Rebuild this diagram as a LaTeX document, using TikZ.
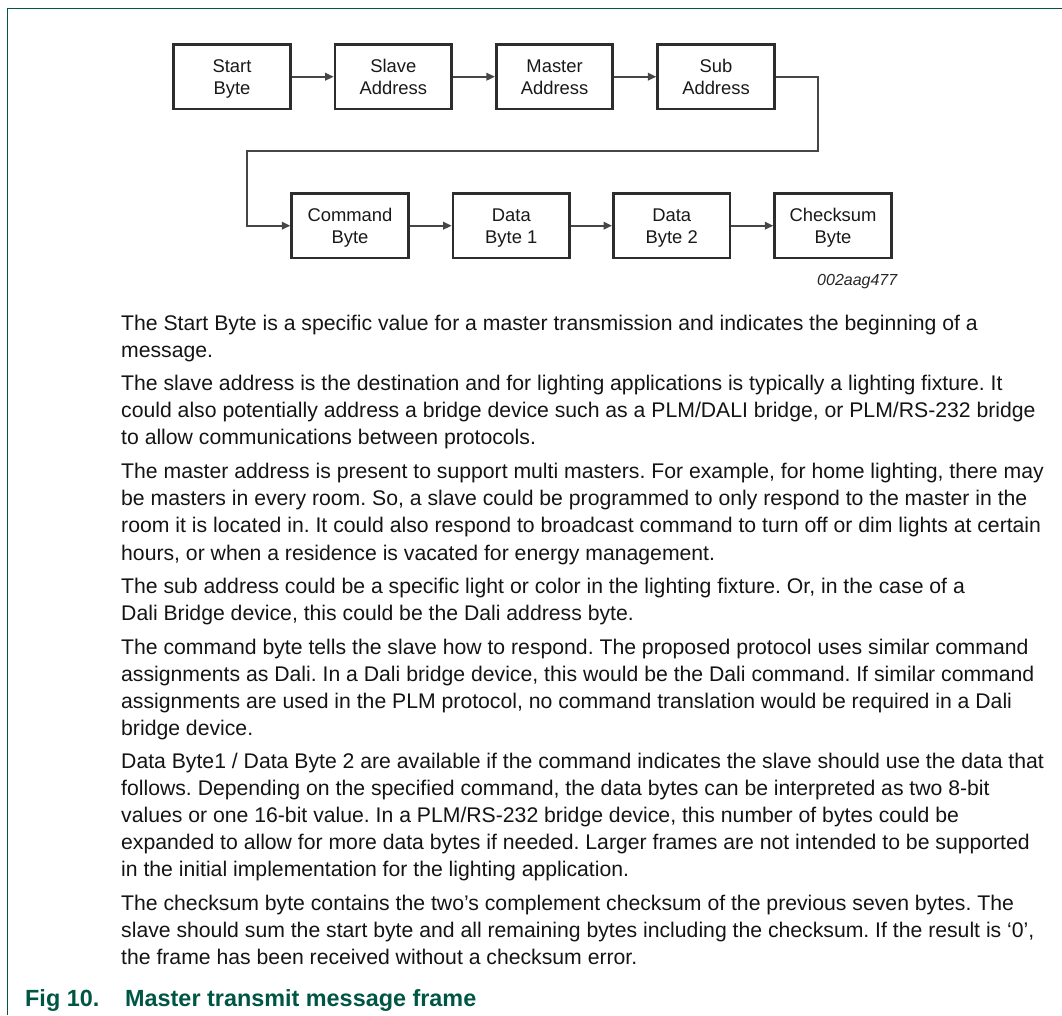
\documentclass[tikz,border=0pt]{standalone}
\usepackage{fontspec}
\setmainfont{Liberation Sans}
\usetikzlibrary{arrows.meta}
\definecolor{nxpgreen}{RGB}{0,86,68}
\definecolor{boxgray}{RGB}{45,45,45}
\definecolor{linegray}{RGB}{70,70,70}
\newcommand{\plines}[1]{\begin{tabular}[t]{@{}l@{}}#1\end{tabular}}
\newcommand{\blines}[1]{\raisebox{-2.5pt}[\height][\depth]{\begin{tabular}{@{}c@{}}#1\end{tabular}}}
\begin{document}
\frenchspacing
\begin{tikzpicture}[x=1pt,y=-1pt,
  fbox/.style={draw=boxgray, line width=2.8pt, minimum width=116.5pt, minimum height=64.5pt,
    inner sep=0pt, font=\fontsize{18.4}{22.4}\selectfont, text=black!90},
  conn/.style={draw=linegray, line width=1.9pt, -{Triangle[length=8.5pt,width=7.5pt]}},
  para/.style={anchor=base west, inner sep=0pt, text=black!92,
    font=\fontsize{21.2}{27.1}\selectfont\frenchspacing}]
\useasboundingbox (0,0) rectangle (1062,1015);
% frame
\draw[nxpgreen, line width=1.6pt] (7.6,1015) -- (7.6,8.6) -- (1062,8.6);
% top row
\node[fbox] (sb) at (232,76.7) {\blines{Start\\Byte}};
\node[fbox] (sa) at (393.3,76.7) {\blines{Slave\\Address}};
\node[fbox] (ma) at (554.6,76.7) {\blines{Master\\Address}};
\node[fbox] (su) at (716,76.7) {\blines{Sub\\Address}};
% bottom row
\node[fbox] (cb) at (350,225.7) {\blines{Command\\Byte}};
\node[fbox] (d1) at (511.3,225.7) {\blines{Data\\Byte 1}};
\node[fbox] (d2) at (671.7,225.7) {\blines{Data\\Byte 2}};
\node[fbox] (cs) at (833,225.7) {\blines{Checksum\\Byte}};
% connectors
\draw[conn] (sb.east) -- (sa.west);
\draw[conn] (sa.east) -- (ma.west);
\draw[conn] (ma.east) -- (su.west);
\coordinate (k1) at (818.3,76.7);
\coordinate (k2) at (818.3,150.7);
\coordinate (k3) at (246.9,150.7);
\coordinate (k4) at (246.9,225.7);
\draw[conn] (su.east) -- (k1) -- (k2) -- (k3) -- (k4) -- (cb.west);
\draw[conn] (cb.east) -- (d1.west);
\draw[conn] (d1.east) -- (d2.west);
\draw[conn] (d2.east) -- (cs.west);
\node[anchor=base east, inner sep=0pt, font=\fontsize{16}{18}\selectfont\itshape, text=black!85] (code) at (897.5,285.5) {002aag477};
% paragraphs
\node[para] (p1) at (121,330) {\plines{The Start Byte is a specific value for a master transmission and indicates the beginning of a\\message.}};
\node[para] (p2) at (121,390.7) {\plines{The slave address is the destination and for lighting applications is typically a lighting fixture. It\\could also potentially address a bridge device such as a PLM/DALI bridge, or PLM/RS-232 bridge\\to allow communications between protocols.}};
\node[para] (p3) at (121,478.7) {\plines{The master address is present to support multi masters. For example, for home lighting, there may\\be masters in every room. So, a slave could be programmed to only respond to the master in the\\room it is located in. It could also respond to broadcast command to turn off or dim lights at certain\\hours, or when a residence is vacated for energy management.}};
\node[para] (p4) at (121,593.3) {\plines{The sub address could be a specific light or color in the lighting fixture. Or, in the case of a\\Dali Bridge device, this could be the Dali address byte.}};
\node[para] (p5) at (121,654.3) {\plines{The command byte tells the slave how to respond. The proposed protocol uses similar command\\assignments as Dali. In a Dali bridge device, this would be the Dali command. If similar command\\assignments are used in the PLM protocol, no command translation would be required in a Dali\\bridge device.}};
\node[para] (p6) at (121,768.3) {\plines{Data Byte1 / Data Byte 2 are available if the command indicates the slave should use the data that\\follows. Depending on the specified command, the data bytes can be interpreted as two 8-bit\\values or one 16-bit value. In a PLM/RS-232 bridge device, this number of bytes could be\\expanded to allow for more data bytes if needed. Larger frames are not intended to be supported\\in the initial implementation for the lighting application.}};
\node[para] (p7) at (121,910.7) {\plines{The checksum byte contains the two’s complement checksum of the previous seven bytes. The\\slave should sum the start byte and all remaining bytes including the checksum. If the result is ‘0’,\\the frame has been received without a checksum error.}};
% caption
\node[anchor=base west, inner sep=0pt, text=nxpgreen, font=\fontsize{23.4}{26}\selectfont\bfseries] (cap) at (25,1006) {\makebox[100pt][l]{Fig 10.}Master transmit message frame};
\end{tikzpicture}
\end{document}
